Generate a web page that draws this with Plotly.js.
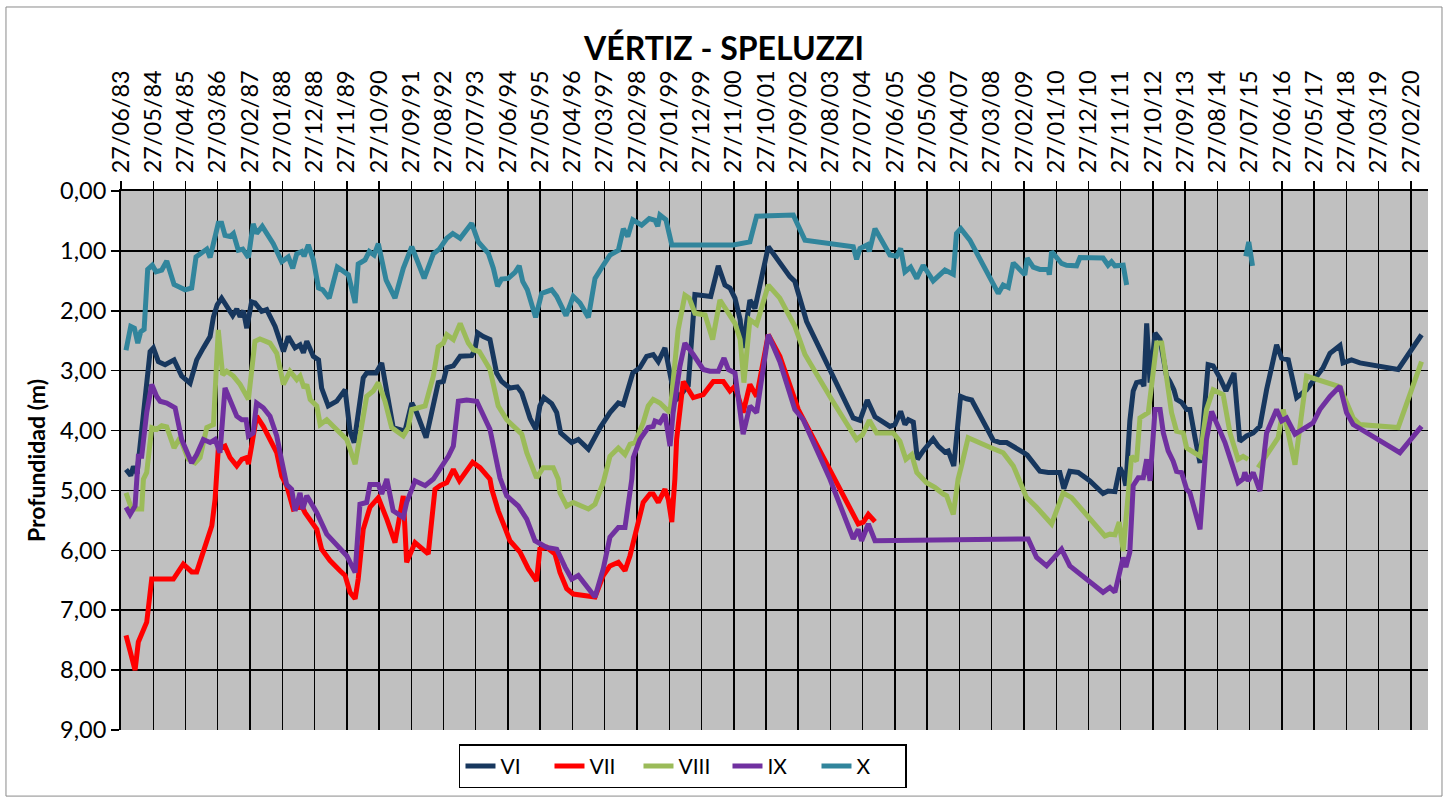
<!DOCTYPE html>
<html>
<head>
<meta charset="utf-8">
<script src="https://cdn.plot.ly/plotly-3.0.1.min.js"></script>
<style>html,body{margin:0;padding:0;background:#fff;}#chart{width:1451px;height:800px;}</style>
</head>
<body>
<div id="chart"></div>
<script>
const tickDates = ['1983-06-27','1984-05-27','1985-04-27','1986-03-27','1987-02-27','1988-01-27','1988-12-27','1989-11-27','1990-10-27','1991-09-27','1992-08-27','1993-07-27','1994-06-27','1995-05-27','1996-04-27','1997-03-27','1998-02-27','1999-01-27','1999-12-27','2000-11-27','2001-10-27','2002-09-27','2003-08-27','2004-07-27','2005-06-27','2006-05-27','2007-04-27','2008-03-27','2009-02-27','2010-01-27','2010-12-27','2011-11-27','2012-10-27','2013-09-27','2014-08-27','2015-07-27','2016-06-27','2017-05-27','2018-04-27','2019-03-27','2020-02-27'];
const tickLabels = ['27/06/83','27/05/84','27/04/85','27/03/86','27/02/87','27/01/88','27/12/88','27/11/89','27/10/90','27/09/91','27/08/92','27/07/93','27/06/94','27/05/95','27/04/96','27/03/97','27/02/98','27/01/99','27/12/99','27/11/00','27/10/01','27/09/02','27/08/03','27/07/04','27/06/05','27/05/06','27/04/07','27/03/08','27/02/09','27/01/10','27/12/10','27/11/11','27/10/12','27/09/13','27/08/14','27/07/15','27/06/16','27/05/17','27/04/18','27/03/19','27/02/20'];

const seriesNames = ['VI','VII','VIII','IX','X'];
const seriesColors = ['#17375E','#FF0000','#9BBB59','#7030A0','#31859C'];

const dates_VI = ['1983-08-18','1983-10-06','1983-11-03','1983-12-11','1984-04-24','1984-05-28','1984-07-19','1984-09-27','1984-12-29','1985-03-18','1985-06-13','1985-08-21','1985-10-29','1986-01-07','1986-02-11','1986-03-22','1986-05-07','1986-07-15','1986-08-30','1986-10-11','1986-11-15','1986-12-19','1987-01-23','1987-03-14','1987-04-18','1987-06-27','1987-08-18','1987-11-13','1988-02-08','1988-03-29','1988-06-07','1988-07-29','1988-09-02','1988-10-07','1988-12-14','1989-02-06','1989-03-10','1989-05-18','1989-08-14','1989-11-09','1989-12-30','1990-02-11','1990-05-16','1990-06-21','1990-09-26','1990-11-24','1991-02-19','1991-03-23','1991-07-23','1991-10-02','1991-11-22','1992-02-28','1992-07-03','1992-08-25','1992-09-30','1992-12-07','1993-02-16','1993-06-15','1993-07-19','1993-08-17','1993-10-14','1993-12-22','1994-03-01','1994-04-22','1994-07-17','1994-10-02','1994-11-17','1994-12-21','1995-02-12','1995-04-13','1995-05-24','1995-07-05','1995-09-24','1995-11-15','1995-12-26','1996-04-19','1996-06-26','1996-10-09','1997-02-08','1997-05-21','1997-08-16','1997-10-07','1998-01-13','1998-03-27','1998-06-06','1998-08-13','1998-10-05','1998-12-13','1999-02-22','1999-05-01','1999-08-12','1999-10-20','2000-02-20','2000-04-01','2000-06-19','2000-08-27','2000-10-18','2000-12-09','2001-02-01','2001-02-28','2001-05-13','2001-07-04','2001-11-20','2002-07-02','2002-08-23','2002-12-23','2004-04-20','2004-06-29','2004-09-13','2004-12-02','2005-05-06','2005-06-27','2005-08-25','2005-10-09','2005-11-13','2006-01-04','2006-02-15','2006-04-16','2006-07-29','2006-09-20','2006-11-28','2007-01-02','2007-02-28','2007-05-09','2007-07-10','2007-09-02','2008-04-13','2008-06-21','2008-08-30','2008-11-07','2009-03-07','2009-04-01','2009-08-10','2009-11-05','2010-03-05','2010-04-16','2010-06-17','2010-09-12','2011-01-12','2011-05-28','2011-07-19','2011-09-28','2011-11-19','2011-12-23','2012-01-20','2012-03-01','2012-04-05','2012-05-10','2012-07-01','2012-07-25','2012-08-23','2012-09-27','2012-11-18','2013-01-09','2013-03-17','2013-04-21','2013-06-02','2013-06-29','2013-08-20','2013-10-12','2013-11-15','2014-01-07','2014-02-28','2014-05-23','2014-07-14','2014-09-22','2014-11-24','2015-02-16','2015-04-17','2015-06-26','2015-09-03','2015-11-12','2016-01-20','2016-05-03','2016-06-24','2016-09-01','2016-11-27','2017-03-10','2017-06-22','2017-08-29','2017-11-08','2018-02-20','2018-03-24','2018-06-20','2018-09-15','2019-10-17','2020-06-16'];
const depth_VI = [4.65,4.75,4.60,4.72,2.68,2.62,2.85,2.90,2.82,3.09,3.21,2.82,2.62,2.43,2.10,1.90,1.79,1.96,2.08,1.97,2.10,2.00,2.29,1.85,1.87,2.01,1.98,2.26,2.68,2.43,2.62,2.57,2.70,2.51,2.76,2.82,3.29,3.59,3.51,3.32,4.01,4.20,3.12,3.04,3.04,2.87,3.59,3.95,4.01,3.54,3.70,4.12,3.20,3.18,2.95,2.92,2.76,2.75,2.65,2.37,2.43,2.48,3.04,3.18,3.29,3.27,3.37,3.54,3.80,3.98,3.59,3.45,3.55,3.70,4.04,4.20,4.15,4.31,3.95,3.70,3.54,3.57,3.04,2.95,2.76,2.73,2.85,2.62,3.20,3.45,3.25,1.73,1.76,1.76,1.25,1.57,1.62,1.79,2.15,2.62,1.82,1.96,0.93,1.43,1.51,2.18,3.79,3.83,3.49,3.77,3.93,3.90,3.68,3.90,3.82,3.86,4.48,4.34,4.14,4.26,4.36,4.34,4.59,3.43,3.47,3.49,4.16,4.20,4.20,4.26,4.38,4.41,4.68,4.70,4.70,4.97,4.68,4.70,4.84,5.05,5.01,5.02,4.62,4.73,4.92,3.84,3.34,3.20,3.18,3.26,2.21,3.20,2.37,2.48,3.09,3.18,3.32,3.48,3.53,3.65,3.65,4.12,4.54,2.90,2.92,3.12,3.34,3.04,4.18,4.09,4.04,3.93,3.32,2.57,2.79,2.82,3.45,3.32,3.09,2.95,2.71,2.58,2.87,2.82,2.87,2.98,2.40];

const dates_VII = ['1983-08-18','1983-10-06','1983-11-20','1983-12-24','1984-03-20','1984-05-11','1984-07-02','1984-12-22','1985-04-04','1985-06-30','1985-08-21','1985-12-04','1986-01-25','1986-02-28','1986-03-16','1986-04-02','1986-06-11','1986-08-02','1986-10-11','1986-12-02','1987-01-23','1987-02-09','1987-03-14','1987-05-05','1987-07-13','1987-10-08','1987-11-30','1988-01-21','1988-03-12','1988-05-20','1988-07-11','1988-08-16','1988-09-19','1988-12-14','1989-01-19','1989-03-10','1989-06-05','1989-09-17','1989-11-09','1989-12-30','1990-02-21','1990-03-25','1990-05-16','1990-07-25','1990-10-20','1991-01-16','1991-04-11','1991-07-06','1991-08-10','1991-11-05','1992-03-21','1992-05-30','1992-07-21','1992-09-30','1992-12-07','1993-02-08','1993-06-25','1993-09-10','1993-12-22','1994-01-10','1994-03-18','1994-05-26','1994-07-17','1994-10-30','1995-01-25','1995-04-20','1995-05-24','1995-08-03','1995-10-28','1995-12-19','1996-02-27','1996-05-05','1996-10-26','1996-12-17','1997-03-12','1997-05-21','1997-08-16','1997-10-24','1997-12-15','1998-02-23','1998-05-01','1998-07-10','1998-08-13','1998-10-05','1998-12-13','1999-01-17','1999-02-22','1999-03-26','1999-04-13','1999-06-21','1999-10-03','2000-01-15','2000-04-28','2000-08-10','2000-10-18','2000-12-09','2001-03-04','2001-05-13','2001-07-22','2001-11-20','2002-03-20','2002-09-28','2004-01-25','2004-06-11','2004-08-03','2004-09-24','2004-12-02'];
const depth_VII = [7.42,7.70,8.00,7.53,7.20,6.48,6.48,6.48,6.23,6.36,6.36,5.87,5.59,5.15,4.81,4.31,4.26,4.45,4.59,4.48,4.45,4.56,4.26,3.76,3.93,4.20,4.37,4.76,4.92,5.31,5.28,5.26,5.37,5.59,5.65,5.98,6.17,6.34,6.42,6.70,6.81,6.48,5.65,5.28,5.12,5.48,5.87,5.09,6.20,5.87,6.06,4.98,4.92,4.87,4.65,4.84,4.53,4.62,4.81,4.98,5.34,5.62,5.84,6.03,6.31,6.51,5.98,5.95,6.06,6.37,6.64,6.73,6.76,6.78,6.42,6.26,6.20,6.34,6.09,5.59,5.20,5.06,5.06,5.20,4.98,5.15,5.53,4.81,4.15,3.18,3.45,3.40,3.18,3.18,3.34,3.26,3.70,3.23,3.43,2.40,2.76,3.65,5.15,5.56,5.53,5.40,5.52];

const dates_VIII = ['1983-08-18','1983-10-16','1984-01-28','1984-02-15','1984-03-20','1984-05-11','1984-07-02','1984-08-23','1984-10-14','1984-12-29','1985-02-28','1985-05-25','1985-08-04','1985-09-25','1985-12-04','1986-02-11','1986-04-02','1986-05-17','1986-06-28','1986-09-06','1986-11-15','1987-02-09','1987-04-18','1987-06-09','1987-09-21','1987-11-30','1988-02-08','1988-04-16','1988-06-25','1988-07-29','1988-09-09','1988-10-07','1988-11-11','1989-01-19','1989-02-23','1989-05-02','1989-07-09','1989-11-26','1990-02-21','1990-04-12','1990-06-21','1990-08-28','1990-10-20','1990-12-28','1991-03-07','1991-07-06','1991-08-27','1991-10-02','1992-02-18','1992-05-13','1992-07-03','1992-08-25','1992-09-30','1992-12-07','1993-02-16','1993-05-11','1993-07-02','1993-09-03','1993-12-22','1994-03-18','1994-06-14','1994-09-08','1994-11-17','1995-01-08','1995-04-20','1995-06-28','1995-10-10','1995-12-01','1995-12-19','1996-02-27','1996-05-05','1996-10-09','1996-12-17','1997-03-12','1997-05-21','1997-08-16','1997-10-24','1997-12-15','1998-02-06','1998-05-01','1998-06-22','1998-08-13','1998-10-22','1999-01-01','1999-02-04','1999-04-29','1999-07-08','1999-08-22','1999-10-20','2000-02-03','2000-04-21','2000-07-06','2000-09-15','2000-12-09','2001-02-01','2001-03-12','2001-05-13','2001-07-22','2001-11-20','2002-03-20','2002-08-23','2002-12-06','2003-09-09','2004-05-25','2004-07-26','2004-10-04','2004-12-19','2005-06-09','2005-08-18','2005-10-19','2005-12-18','2006-02-09','2006-05-21','2006-08-16','2006-11-11','2006-12-16','2007-02-23','2007-04-14','2007-05-19','2007-07-27','2008-03-26','2008-07-25','2008-11-07','2009-03-07','2009-03-25','2009-07-07','2009-12-10','2010-04-09','2010-07-05','2011-06-16','2011-08-07','2011-09-28','2011-11-12','2011-12-23','2012-02-14','2012-03-19','2012-05-10','2012-06-14','2012-09-09','2012-10-30','2012-12-05','2013-01-26','2013-03-17','2013-05-08','2013-06-29','2013-09-07','2013-10-12','2014-02-28','2014-05-06','2014-07-14','2014-10-26','2015-01-05','2015-03-30','2015-05-21','2015-07-12','2015-09-15','2015-10-24','2016-05-19','2016-07-10','2016-09-01','2016-11-10','2017-03-10','2018-02-20','2018-07-07','2018-09-15','2019-10-17','2020-06-16'];
const depth_VIII = [5.04,5.31,5.31,4.81,4.70,3.95,3.98,3.92,3.94,4.29,4.12,4.48,4.54,4.45,3.95,3.90,2.32,3.07,3.01,3.09,3.23,3.48,2.51,2.47,2.54,2.71,3.23,3.01,3.15,3.09,3.29,3.23,3.48,3.59,3.90,3.82,3.93,4.15,4.56,4.04,3.43,3.34,3.20,3.51,3.95,4.09,3.95,3.65,3.59,3.09,2.60,2.54,2.40,2.48,2.21,2.54,2.65,2.68,2.98,3.59,3.82,3.95,4.06,4.37,4.79,4.62,4.62,4.81,5.04,5.26,5.20,5.31,5.23,4.87,4.43,4.29,4.40,4.23,4.20,3.87,3.59,3.48,3.54,3.65,3.70,2.32,1.74,1.79,2.04,2.07,2.48,1.82,2.01,2.21,2.48,3.20,2.15,2.23,1.57,1.79,2.26,2.73,3.48,4.15,4.07,3.83,4.04,4.04,4.18,4.48,4.40,4.70,4.87,4.95,5.06,5.09,5.40,4.81,4.59,4.12,4.29,4.37,4.59,5.04,5.12,5.28,5.56,5.04,5.12,5.76,5.73,5.74,5.53,6.01,4.92,4.43,4.51,3.79,3.70,3.04,2.54,2.54,3.15,3.70,4.01,4.04,4.29,4.43,3.65,3.32,3.40,4.04,4.48,4.43,4.48,null,4.62,4.12,3.65,4.04,4.57,3.09,3.27,3.79,3.90,3.95,2.85];

const dates_IX = ['1983-08-18','1983-09-29','1983-11-20','1983-12-08','1983-12-24','1984-01-28','1984-03-20','1984-05-11','1984-07-02','1984-08-06','1984-10-14','1985-01-09','1985-03-18','1985-06-30','1985-08-21','1985-10-29','1986-01-07','1986-02-28','1986-04-20','1986-06-11','1986-08-19','1986-10-11','1986-12-02','1987-01-16','1987-02-09','1987-03-30','1987-05-05','1987-07-13','1987-09-21','1987-11-30','1988-01-21','1988-03-12','1988-05-03','1988-06-07','1988-07-29','1988-08-26','1988-10-07','1989-01-19','1989-05-02','1989-07-09','1989-11-26','1990-02-21','1990-04-12','1990-06-21','1990-07-25','1990-10-20','1990-11-24','1991-01-16','1991-03-23','1991-07-06','1991-08-10','1991-11-05','1992-02-18','1992-05-13','1992-07-21','1992-10-16','1992-12-07','1993-01-28','1993-04-24','1993-08-07','1993-12-22','1994-04-05','1994-06-14','1994-10-12','1995-01-08','1995-04-03','1995-08-03','1995-11-15','1996-02-10','1996-04-19','1996-06-26','1996-09-22','1996-12-17','1997-03-12','1997-05-21','1997-08-16','1997-10-24','1998-01-03','1998-01-19','1998-03-27','1998-06-22','1998-08-13','1998-09-01','1998-10-22','1998-12-13','1999-02-04','1999-03-08','1999-05-17','1999-07-08','1999-10-03','2000-01-15','2000-03-24','2000-06-19','2000-08-17','2000-10-01','2000-12-09','2001-03-04','2001-05-13','2001-07-22','2001-11-20','2002-03-20','2002-08-23','2002-11-18','2003-08-22','2004-04-20','2004-06-11','2004-07-16','2004-09-24','2004-12-02','2009-04-11','2009-07-07','2009-10-19','2010-03-23','2010-06-17','2011-05-28','2011-08-07','2011-09-28','2011-11-19','2011-12-23','2012-01-20','2012-03-01','2012-04-05','2012-05-27','2012-07-18','2012-08-23','2012-09-27','2012-11-18','2013-01-09','2013-02-12','2013-04-03','2013-05-25','2013-06-29','2013-08-20','2013-10-12','2013-11-15','2014-02-28','2014-05-06','2014-06-28','2014-09-05','2014-11-14','2015-01-22','2015-03-30','2015-05-21','2015-06-08','2015-07-12','2015-09-03','2015-11-12','2016-01-03','2016-01-20','2016-05-03','2016-06-24','2016-08-15','2016-11-10','2017-05-17','2017-07-26','2017-11-08','2018-02-20','2018-04-29','2018-07-07','2019-11-04','2020-06-16'];
const depth_IX = [5.28,5.40,5.26,4.81,4.43,4.43,3.70,3.23,3.43,3.51,3.54,3.62,4.15,4.54,4.40,4.15,4.20,4.15,4.37,3.29,3.59,3.76,3.82,3.82,4.09,4.04,3.54,3.62,3.76,4.09,4.51,4.90,4.98,5.34,5.04,5.31,5.09,5.37,5.73,5.84,6.09,6.37,5.23,5.20,4.90,4.90,5.06,4.81,5.34,5.45,5.20,4.84,4.92,4.81,4.65,4.43,4.26,3.51,3.49,3.51,3.98,4.79,5.09,5.26,5.48,5.84,5.95,5.98,6.28,6.48,6.42,6.59,6.78,6.31,5.78,5.62,5.62,4.81,4.45,4.15,3.95,3.93,3.84,3.87,3.73,4.26,3.70,2.93,2.54,2.73,2.98,3.01,3.01,2.79,2.98,3.04,4.06,3.59,3.70,2.40,2.85,3.65,3.82,4.81,5.81,5.65,5.84,5.56,5.84,5.81,6.12,6.26,5.98,6.26,6.70,6.62,6.70,6.35,6.12,6.28,6.03,4.92,4.79,4.79,4.48,4.84,3.65,3.65,4.04,4.34,4.51,4.68,4.70,4.98,5.04,5.65,4.15,3.68,3.93,4.20,4.54,4.87,4.81,4.70,4.84,4.70,5.01,4.12,4.04,3.65,3.84,3.79,4.06,3.87,3.65,3.43,3.26,3.70,3.90,4.37,3.93];

const dates_X = ['1983-08-18','1983-10-06','1983-11-13','1983-12-18','1984-01-18','1984-02-22','1984-03-30','1984-05-17','1984-06-25','1984-08-23','1984-10-14','1984-12-29','1985-04-22','1985-06-30','1985-08-14','1985-10-12','1985-12-04','1986-01-07','1986-04-02','1986-05-07','1986-06-11','1986-08-02','1986-09-06','1986-10-27','1986-12-12','1987-02-09','1987-03-30','1987-05-05','1987-07-03','1987-10-25','1988-01-21','1988-03-29','1988-05-14','1988-06-25','1988-08-16','1988-09-09','1988-10-23','1988-12-14','1989-02-06','1989-03-21','1989-05-28','1989-08-20','1989-10-21','1989-12-13','1990-02-21','1990-03-25','1990-06-04','1990-07-18','1990-09-06','1990-10-20','1991-01-09','1991-04-11','1991-07-06','1991-10-02','1992-02-08','1992-05-13','1992-07-14','1992-09-30','1992-12-01','1993-02-16','1993-06-15','1993-08-23','1993-12-05','1994-01-26','1994-03-11','1994-04-22','1994-06-30','1994-09-08','1994-10-22','1994-11-27','1995-01-14','1995-02-28','1995-04-10','1995-06-12','1995-09-24','1995-11-15','1996-02-20','1996-05-05','1996-07-14','1996-10-09','1996-12-17','1997-03-12','1997-05-21','1997-08-16','1997-10-07','1997-11-22','1998-01-13','1998-04-15','1998-07-03','1998-09-01','1998-09-29','1998-10-22','1998-12-23','1999-02-22','2000-11-22','2001-05-13','2001-07-22','2002-08-06','2002-12-06','2004-04-20','2004-05-25','2004-06-29','2004-09-13','2004-10-04','2004-12-02','2005-05-06','2005-07-14','2005-08-25','2005-10-09','2005-12-07','2006-02-09','2006-04-16','2006-07-29','2006-11-28','2007-02-23','2007-03-28','2007-05-12','2007-08-14','2008-06-04','2008-07-25','2008-09-16','2008-11-07','2009-03-07','2009-04-01','2009-06-02','2009-08-10','2009-11-05','2009-11-16','2009-12-10','2010-03-23','2010-05-14','2010-08-26','2010-09-30','2011-05-28','2011-07-19','2011-08-24','2011-09-28','2011-12-23','2012-01-28','2013-09-01','2015-06-18','2015-07-19','2015-08-27'];
const depth_X = [2.66,2.26,2.29,2.54,2.35,2.31,1.31,1.24,1.35,1.32,1.17,1.56,1.65,1.62,1.10,1.04,0.97,1.11,0.54,0.54,0.74,0.76,0.71,0.99,0.97,1.11,0.55,0.71,0.59,0.88,1.18,1.10,1.29,1.05,1.01,1.09,0.90,1.15,1.62,1.65,1.79,1.27,1.35,1.40,1.87,1.22,1.15,1.01,1.07,0.88,1.49,1.79,1.29,0.93,1.46,1.05,0.97,0.79,0.71,0.79,0.54,0.85,1.04,1.29,1.59,1.47,1.46,1.36,1.25,1.51,1.65,1.90,2.11,1.71,1.65,1.76,2.08,1.76,1.87,2.11,1.46,1.24,1.07,0.99,0.63,0.76,0.48,0.57,0.46,0.49,0.59,0.40,0.48,0.90,0.90,0.85,0.42,0.40,0.82,0.93,1.14,0.96,0.90,1.01,0.63,1.07,1.09,0.96,1.35,1.27,1.46,1.24,1.50,1.32,1.39,0.71,0.63,0.82,1.71,1.57,1.61,1.20,1.40,1.12,1.27,1.31,1.31,1.40,1.01,1.21,1.24,1.25,1.11,1.12,1.24,1.18,1.25,1.24,1.57,null,1.09,0.85,1.25];

const allDates = [dates_VI, dates_VII, dates_VIII, dates_IX, dates_X];
const allDepths = [depth_VI, depth_VII, depth_VIII, depth_IX, depth_X];

allDates.forEach((d,i)=>{ if(d.length!==allDepths[i].length) console.error('Length mismatch', seriesNames[i], d.length, allDepths[i].length); });

const traces = seriesNames.map((name,i)=>({
  type:'scatter', mode:'lines', name:name,
  x: allDates[i], y: allDepths[i],
  connectgaps:false,
  line:{color:seriesColors[i], width:5, shape:'linear'},
  hoverinfo:'skip'
}));

const FONT = 'Lato, "Liberation Sans", sans-serif';

const layout = {
  width:1451, height:800,
  separators:',.',
  paper_bgcolor:'#ffffff',
  plot_bgcolor:'#C0C0C0',
  margin:{l:121, r:23, t:191, b:68, pad:0},
  showlegend:true,
  title:{
    text:'VÉRTIZ - SPELUZZI',
    font:{family:FONT, size:32, color:'#000000', weight:700},
    x:0.499, xref:'container', xanchor:'center',
    y:0.939, yref:'container', yanchor:'middle'
  },
  xaxis:{
    type:'date', side:'top',
    range:['1983-06-27','2020-08-22'],
    tickmode:'array', tickvals:tickDates, ticktext:tickLabels,
    tickangle:-90,
    ticks:'outside', ticklen:8, tickwidth:1.5, tickcolor:'#000000',
    ticklabelstandoff:3,
    tickfont:{family:FONT, size:23.5, color:'#000000'},
    showgrid:true, gridcolor:'#000000', gridwidth:1.5,
    showline:true, linecolor:'#000000', linewidth:2,
    zeroline:false, fixedrange:true
  },
  yaxis:{
    range:[9,0], tick0:0, dtick:1, tickformat:'.2f',
    ticks:'outside', ticklen:8, tickwidth:1.5, tickcolor:'#000000',
    tickfont:{family:FONT, size:23.5, color:'#000000'},
    showgrid:true, gridcolor:'#000000', gridwidth:1.5,
    showline:true, linecolor:'#000000', linewidth:2,
    zeroline:false, fixedrange:true,
    title:{text:'Profundidad (m)', font:{family:FONT, size:23, color:'#000000', weight:700}, standoff:8}
  },
  legend:{
    orientation:'h', x:0.2586, xanchor:'left', y:-0.0264, yanchor:'top',
    bgcolor:'#ffffff', bordercolor:'#000000', borderwidth:1.5,
    font:{family:FONT, size:21, color:'#000000'},
    entrywidth:44, entrywidthmode:'pixels',
    traceorder:'normal'
  },
  shapes:[{
    type:'rect', xref:'paper', yref:'paper',
    x0:-0.088, x1:1.0107, y0:-0.1226, y1:1.3414,
    line:{color:'#8A8A8A', width:1}, fillcolor:'rgba(0,0,0,0)', layer:'below'
  }]
};

Plotly.newPlot('chart', traces, layout, {displayModeBar:false, staticPlot:true});
</script>
</body>
</html>
